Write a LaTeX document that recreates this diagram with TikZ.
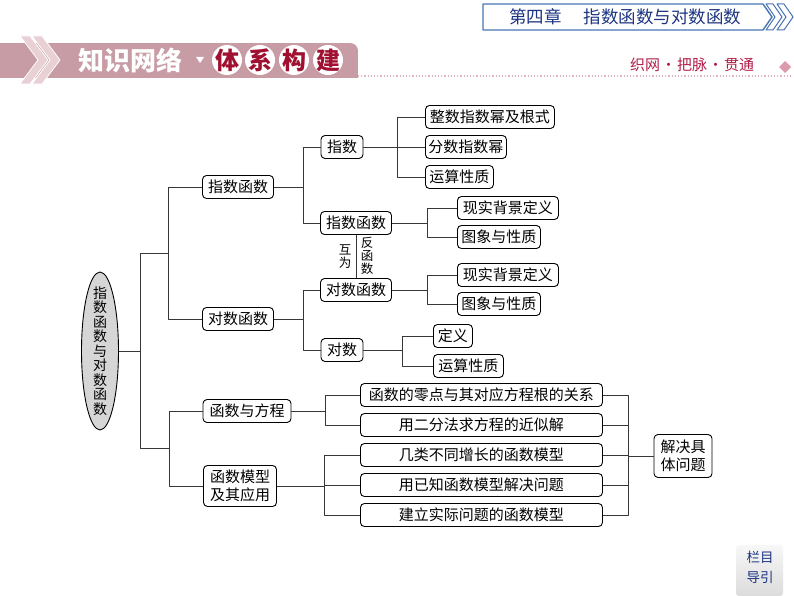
\documentclass[tikz,border=0pt]{standalone}
\usepackage{fontspec}
\newfontfamily\cjk{Noto Sans CJK SC}
\usetikzlibrary{positioning,calc}
\definecolor{linegray}{RGB}{55,55,55}
\definecolor{headblue}{RGB}{70,116,180}
\definecolor{headtext}{RGB}{28,52,130}
\definecolor{bandpink}{RGB}{200,156,165}
\definecolor{chevpink}{RGB}{232,208,213}
\definecolor{darkred}{RGB}{160,16,48}
\definecolor{rosetext}{RGB}{176,30,72}
\definecolor{ovalgray}{RGB}{214,214,214}

\begin{document}
\begin{tikzpicture}[x=1pt, y=-1pt, line join=round,
  box/.style={draw=black, line width=0.9pt, rounded corners=4pt, fill=white,
    minimum height=23pt, inner xsep=3pt, inner ysep=1pt,
    font=\cjk\fontsize{15}{18}\selectfont},
  leaf/.style={box, anchor=west},
  link/.style={draw=linegray, line width=0.9pt},
  note/.style={font=\cjk\fontsize{12.5}{13}\selectfont, align=center, inner sep=0pt}]

\useasboundingbox (0,0) rectangle (794,596);

% header
\draw[headblue, line width=1.4pt] (483,4) -- (763,4) -- (772,17) -- (763,30) -- (483,30) -- cycle;
\foreach \dx in {0,11}
  \draw[headblue, line width=1pt, fill=white] (766+\dx,4) -- (773+\dx,4) -- (782+\dx,17)
    -- (773+\dx,30) -- (766+\dx,30) -- (775+\dx,17) -- cycle;
\node[font=\cjk\fontsize{17.5}{18}\selectfont, text=headtext] (chap) at (625,17)
  {第四章\hspace{22pt}指数函数与对数函数};

% banner
\fill[bandpink] (0,43) rectangle (350,78);
\fill[bandpink] (350,51) rectangle (358,78);
\fill[bandpink] (350,51) circle (8);
\foreach \dx in {0,12}
  \draw[white, line width=0.8pt, fill=chevpink] (20+\dx,36) -- (30+\dx,36) -- (48+\dx,60)
    -- (30+\dx,84) -- (20+\dx,84) -- (38+\dx,60) -- cycle;
\node[font=\cjk\bfseries\fontsize{26}{26}\selectfont, text=white] (zswl) at (130,60) {知识网络};
\fill[white] (196,57) -- (204,57) -- (200,63) -- cycle;
\foreach \x/\c in {227/体,260/系,294/构,328/建} {
  \fill[white] (\x,60) circle (15);
  \node[font=\cjk\bfseries\fontsize{24}{24}\selectfont, text=darkred] at (\x,60) {\c};
}
\draw[rosetext!35, dotted, line width=1.2pt] (358,76) -- (792,76);
\node[font=\cjk\fontsize{15}{15}\selectfont, text=rosetext] (zw) at (692,65)
  {织网\hspace{1pt}·\hspace{1pt}把脉\hspace{1pt}·\hspace{1pt}贯通};
\fill[rosetext!45] (785,61) -- (791,67) -- (785,73) -- (779,67) -- cycle;

% root
\draw[black, line width=0.9pt, fill=ovalgray] (100,351) ellipse [x radius=18.5, y radius=79];
\node[minimum width=37pt, minimum height=158pt, inner sep=0pt, align=center,
  font=\cjk\fontsize{14}{14.5}\selectfont] (root) at (100,351)
  {指\\数\\函\\数\\与\\对\\数\\函\\数};

% level 1
\node[box, minimum width=71pt] (zsA) at (238,187) {指数函数};
\node[box, minimum width=71pt] (dsA) at (238,319) {对数函数};
\node[box, minimum width=88pt] (hf) at (247,411) {函数与方程};
\node[box, minimum width=73pt, minimum height=41pt, align=center] (hm) at (240,486) {函数模型\\及其应用};

% level 2
\node[box, minimum width=42pt] (zs) at (342,147) {指数};
\node[box, minimum width=71pt] (zsB) at (356,223) {指数函数};
\node[box, minimum width=71pt] (dsB) at (356,290) {对数函数};
\node[box, minimum width=42pt] (ds) at (342,350) {对数};

% level 3
\node[leaf, minimum width=129pt] (zszs) at (425,117) {整数指数幂及根式};
\node[leaf, minimum width=80pt] (fs) at (425,147) {分数指数幂};
\node[leaf, minimum width=68pt] (ysA) at (425,177) {运算性质};
\node[leaf, minimum width=101pt] (xsA) at (457,208) {现实背景定义};
\node[leaf, minimum width=83pt] (txA) at (457,237) {图象与性质};
\node[leaf, minimum width=101pt] (xsB) at (457,275) {现实背景定义};
\node[leaf, minimum width=83pt] (txB) at (457,304) {图象与性质};
\node[leaf, minimum width=39pt] (dy) at (433,336) {定义};
\node[leaf, minimum width=70pt] (ysB) at (433,366) {运算性质};

\node[leaf, minimum width=242pt] (ld) at (360,395) {函数的零点与其对应方程根的关系};
\node[leaf, minimum width=242pt] (ef) at (360,425) {用二分法求方程的近似解};
\node[leaf, minimum width=242pt] (jl) at (360,455) {几类不同增长的函数模型};
\node[leaf, minimum width=242pt] (yj) at (360,485) {用已知函数模型解决问题};
\node[leaf, minimum width=242pt] (jd) at (360,515) {建立实际问题的函数模型};
\node[box, minimum width=58pt, minimum height=43pt, align=center] (jj) at (683,456) {解决具\\体问题};

% connectors
\coordinate (t0) at (140,351);
\coordinate (f1) at (168,253);
\coordinate (f2) at (169,448);
\draw[link] (root.east) -- (t0);
\draw[link] (t0) |- (f1) |- (zsA.west);
\draw[link] (f1) |- (dsA.west);
\draw[link] (t0) |- (f2) |- (hf.west);
\draw[link] (f2) |- (hm.west);

\foreach \p/\dx/\kids in {zsA/29.5/{zs,zsB}, dsA/29.5/{dsB,ds}, zs/34/{zszs,fs,ysA},
    zsB/35.5/{xsA,txA}, dsB/35.5/{xsB,txB}, ds/39/{dy,ysB}, hf/34/{ld,ef}, hm/47.5/{jl,yj,jd}} {
  \draw[link] (\p.east) -- ++(\dx,0) coordinate (fk);
  \foreach \k in \kids
    \draw[link] (fk) |- (\k.west);
}

\coordinate (mg) at (628,456);
\foreach \k in {ld,ef,jl,yj,jd}
  \draw[link] (\k.east) -| (mg);
\draw[link] (mg) -- (jj.west);

\draw[link] (zsB.south) -- (dsB.north);
\node[note] (hw) at (345,257) {互\\为};
\node[note] (ffs) at (367,256) {反\\函\\数};

% nav button
\shade[top color=gray!6, bottom color=gray!28, rounded corners=3pt] (736,545) rectangle (783,596);
\node[font=\cjk\fontsize{13.5}{20}\selectfont, text=headtext, align=center] (lm) at (760,567) {栏目\\导引};

\end{tikzpicture}
\end{document}
